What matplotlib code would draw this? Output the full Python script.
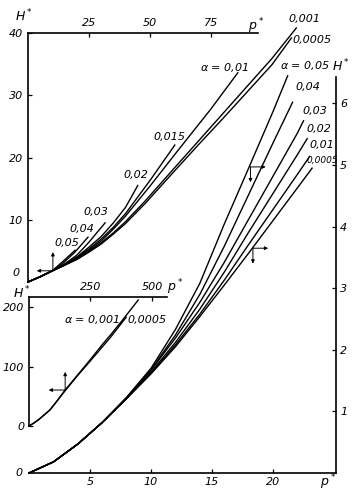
import matplotlib
matplotlib.use("Agg")
import matplotlib.pyplot as plt

# --- main axes (bottom p*, right H*), curves for alpha = 0.05 ... 0.0005
main_alpha = [0.05, 0.04, 0.03, 0.02, 0.01, 0.0005]
main_p = [
    [0, 2, 4, 6, 8, 10, 12, 14, 16, 18, 20, 21.2],
    [0, 2, 4, 6, 8, 10, 12, 14, 16, 18, 20, 21.6],
    [0, 2, 4, 6, 8, 10, 12, 14, 16, 18, 20, 22, 22.5],
    [0, 2, 4, 6, 8, 10, 12, 14, 16, 18, 20, 22, 22.8],
    [0, 2, 4, 6, 8, 10, 12, 14, 16, 18, 20, 22, 23.0],
    [0, 2, 4, 6, 8, 10, 12, 14, 16, 18, 20, 22, 23.2],
]
main_h = [
    [0, 0.18, 0.47, 0.82, 1.23, 1.70, 2.33, 3.08, 4.04, 4.95, 5.87, 6.45],
    [0, 0.18, 0.47, 0.82, 1.22, 1.68, 2.24, 2.90, 3.68, 4.52, 5.36, 6.02],
    [0, 0.18, 0.47, 0.82, 1.22, 1.67, 2.19, 2.77, 3.42, 4.12, 4.82, 5.52, 5.72],
    [0, 0.18, 0.47, 0.82, 1.21, 1.64, 2.12, 2.66, 3.26, 3.91, 4.54, 5.17, 5.43],
    [0, 0.18, 0.47, 0.82, 1.21, 1.62, 2.08, 2.58, 3.13, 3.71, 4.28, 4.85, 5.14],
    [0, 0.18, 0.47, 0.82, 1.21, 1.61, 2.05, 2.54, 3.05, 3.57, 4.10, 4.63, 4.95],
]

# --- upper-left inset (top p* 0..94, left H* 0..40)
top_alpha = [0.05, 0.04, 0.03, 0.02, 0.015, 0.01, 0.001, 0.0005]
top_p = [
    [0, 5, 10, 14, 19.3],
    [0, 5, 10, 14, 19, 24.6],
    [0, 5, 10, 15, 20, 25, 31.6],
    [0, 5, 10, 15, 20, 25, 30, 35, 40, 45],
    [0, 5, 10, 15, 20, 25, 30, 35, 40, 50, 60.2],
    [0, 5, 10, 15, 20, 25, 30, 35, 40, 50, 60, 75, 86],
    [0, 5, 10, 15, 20, 25, 30, 35, 40, 48, 60, 70, 80, 90, 100, 110],
    [0, 5, 10, 15, 20, 25, 30, 35, 40, 48, 60, 70, 80, 90, 100, 108],
]
top_h = [
    [0, 0.85, 1.8, 3.2, 5.1],
    [0, 0.85, 1.8, 2.9, 4.7, 7.2],
    [0, 0.85, 1.8, 2.9, 4.3, 6.4, 9.5],
    [0, 0.85, 1.8, 2.8, 4.0, 5.6, 7.3, 9.5, 12.0, 15.5],
    [0, 0.85, 1.8, 2.75, 3.9, 5.3, 6.9, 8.8, 11.0, 16.3, 22.0],
    [0, 0.85, 1.8, 2.7, 3.8, 5.1, 6.6, 8.5, 10.6, 15.4, 20.4, 27.8, 33.6],
    [0, 0.85, 1.8, 2.7, 3.7, 4.9, 6.3, 7.9, 9.7, 13.0, 18.3, 22.7, 27.1, 31.5, 35.9, 40.8],
    [0, 0.85, 1.8, 2.7, 3.6, 4.8, 6.1, 7.7, 9.4, 12.6, 17.8, 22.1, 26.3, 30.6, 34.9, 39.2],
]

# --- middle inset (top p* 0..560, left H* 0..217)
mid_alpha = [0.001, 0.0005]
mid_p = [
    [0, 20, 40, 60, 85, 110, 146, 200, 240, 300, 331, 380, 444],
    [0, 20, 40, 60, 85, 110, 146, 200, 240, 300, 331, 395],
]
mid_h = [
    [0, 5, 11, 18, 27, 40, 60, 87, 107, 138, 153, 178, 212],
    [0, 5, 11, 18, 27, 40, 59, 86, 105, 134, 149, 183],
]

W, H = 354, 497
plt.rcParams["font.family"] = ["DejaVu Sans"]
plt.rcParams["font.style"] = "italic"
plt.rcParams["mathtext.fontset"] = "dejavusans"

fig = plt.figure(figsize=(W / 100, H / 100), dpi=100)


def px_axes(x0, y0, x1, y1):
    return fig.add_axes([x0 / W, 1 - y1 / H, (x1 - x0) / W, (y1 - y0) / H])


def ptext(x, y, s, ha="left", size=8):
    fig.text(x / W, 1 - y / H, s, ha=ha, va="center", fontsize=size, style="italic")


def fmt(a):
    return f"{a}".replace(".", ",")


def arrow(axis, x0, y0, x1, y1):
    axis.annotate("", xy=(x1, y1), xytext=(x0, y0),
                  arrowprops=dict(arrowstyle="-|>", lw=0.7, color="black",
                                  mutation_scale=5, shrinkA=0, shrinkB=0))


lw = 1.0
tick_kw = dict(direction="in", length=3, width=0.9, labelsize=8)

# main axes
ax = px_axes(29, 77, 336, 473)
ax.patch.set_alpha(0)
for p, h in zip(main_p, main_h):
    ax.plot(p, h, color="black", lw=lw, clip_on=False)
ax.set_xlim(0, 25.16)
ax.set_ylim(0, 6.43)
ax.spines["left"].set_visible(False)
ax.spines["top"].set_visible(False)
for s in ("bottom", "right"):
    ax.spines[s].set_linewidth(1.2)
ax.yaxis.tick_right()
ax.set_xticks([5, 10, 15, 20])
ax.set_yticks([1, 2, 3, 4, 5, 6])
ax.tick_params(**tick_kw)
ax.tick_params(axis="x", pad=3)
ax.tick_params(axis="y", pad=3)
ax.text(-0.5, 0, "0", ha="right", va="center", fontsize=8)
arrow(ax, 18.15, 4.97, 19.4, 4.97)
arrow(ax, 18.15, 4.97, 18.15, 4.72)
arrow(ax, 18.35, 3.65, 19.6, 3.65)
arrow(ax, 18.35, 3.65, 18.35, 3.40)

# upper-left inset
at = px_axes(28, 33, 258, 282)
at.patch.set_alpha(0)
for p, h in zip(top_p, top_h):
    at.plot(p, h, color="black", lw=lw, clip_on=False)
at.set_xlim(0, 94.3)
at.set_ylim(0, 40)
at.spines["right"].set_visible(False)
at.spines["bottom"].set_visible(False)
for s in ("left", "top"):
    at.spines[s].set_linewidth(1.2)
at.xaxis.tick_top()
at.set_xticks([25, 50, 75])
at.set_yticks([10, 20, 30, 40])
at.tick_params(**tick_kw)
at.text(-3.5, 1.5, "0", ha="right", va="center", fontsize=8)
arrow(at, 10.2, 1.8, 3.6, 1.8)
arrow(at, 10.2, 1.8, 10.2, 4.8)
arrow(at, 101.5, 35.9, 95.5, 35.9)
arrow(at, 100.4, 35.9, 100.4, 39.0)

# middle inset
am = px_axes(29, 297, 167, 426)
am.patch.set_alpha(0)
for p, h in zip(mid_p, mid_h):
    am.plot(p, h, color="black", lw=lw, clip_on=False)
am.set_xlim(0, 561)
am.set_ylim(0, 217)
am.spines["right"].set_visible(False)
am.spines["bottom"].set_visible(False)
for s in ("left", "top"):
    am.spines[s].set_linewidth(1.2)
am.xaxis.tick_top()
am.set_xticks([250, 500])
am.set_yticks([0, 100, 200])
am.tick_params(**tick_kw)
arrow(am, 147, 60.5, 80, 60.5)
arrow(am, 147, 60.5, 147, 91)

# curve labels
ptext(200, 67, r"$\alpha$ = " + fmt(top_alpha[5]))
ptext(153, 137, fmt(top_alpha[4]))
ptext(123, 175, fmt(top_alpha[3]))
ptext(83, 212, fmt(top_alpha[2]))
ptext(69, 229, fmt(top_alpha[1]))
ptext(54, 243, fmt(top_alpha[0]))
ptext(288, 19, fmt(top_alpha[6]))
ptext(292, 40, fmt(top_alpha[7]))
ptext(64, 320, r"$\alpha$ = " + fmt(mid_alpha[0]) + ",")
ptext(127, 320, fmt(mid_alpha[1]))
ptext(280, 65, r"$\alpha$ = " + fmt(main_alpha[0]))
ptext(295, 87, fmt(main_alpha[1]))
ptext(302, 111, fmt(main_alpha[2]))
ptext(306, 129, fmt(main_alpha[3]))
ptext(309, 145, fmt(main_alpha[4]))
ptext(307, 161, fmt(main_alpha[5]), size=6.5)

# axis names
ptext(15, 16, r"$H^*$", size=9)
ptext(248, 26, r"$p^*$", size=9)
ptext(13, 293, r"$H^*$", size=9)
ptext(167, 287, r"$p^*$", size=9)
ptext(332, 66, r"$H^*$", size=9)
ptext(320, 482, r"$p^*$", size=9)

fig.savefig("out.png", dpi=100)
